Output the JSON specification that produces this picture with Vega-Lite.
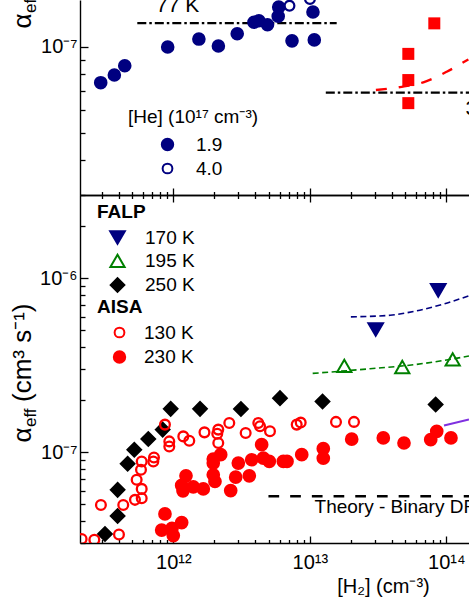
{
  "$schema": "https://vega.github.io/schema/vega-lite/v6.json",
  "autosize": {"type": "none"},
  "padding": {"left": 80, "top": 0, "right": 389, "bottom": 607},
  "spacing": 0,
  "bounds": "flush",
  "datasets": {
    "top_pts": [
      {"h2": 2.94e11, "k": 7.48e-8, "he": "1.9"},
      {"h2": 3.70e11, "k": 7.96e-8, "he": "1.9"},
      {"h2": 4.41e11, "k": 8.58e-8, "he": "1.9"},
      {"h2": 9.10e11, "k": 9.98e-8, "he": "1.9"},
      {"h2": 1.54e12, "k": 1.064e-7, "he": "1.9"},
      {"h2": 2.14e12, "k": 1.006e-7, "he": "1.9"},
      {"h2": 2.94e12, "k": 1.111e-7, "he": "1.9"},
      {"h2": 3.90e12, "k": 1.219e-7, "he": "1.9"},
      {"h2": 4.24e12, "k": 1.234e-7, "he": "1.9"},
      {"h2": 4.90e12, "k": 1.194e-7, "he": "1.9"},
      {"h2": 5.87e12, "k": 1.28e-7, "he": "1.9"},
      {"h2": 5.92e12, "k": 1.378e-7, "he": "1.9"},
      {"h2": 7.41e12, "k": 1.049e-7, "he": "1.9"},
      {"h2": 1.055e13, "k": 1.324e-7, "he": "1.9"},
      {"h2": 1.079e13, "k": 1.057e-7, "he": "1.9"},
      {"h2": 7.10e12, "k": 1.393e-7, "he": "4.0"},
      {"h2": 1.003e13, "k": 1.47e-7, "he": "4.0"}
    ],
    "top_sq": [
      {"h2": 8.17e13, "k": 1.208e-7},
      {"h2": 5.27e13, "k": 9.44e-8},
      {"h2": 5.27e13, "k": 7.64e-8},
      {"h2": 5.27e13, "k": 6.34e-8}
    ],
    "top_lines": [
      {"h2": 5.45e11, "k": 1.211e-7, "id": "a"},
      {"h2": 1.574e13, "k": 1.211e-7, "id": "a"},
      {"h2": 1.31e13, "k": 6.9e-8, "id": "b"},
      {"h2": 1.7e14, "k": 6.9e-8, "id": "b"},
      {"h2": 3.05e13, "k": 7.05e-8, "id": "red"},
      {"h2": 4.58e13, "k": 7.22e-8, "id": "red"},
      {"h2": 6.79e13, "k": 7.5e-8, "id": "red"},
      {"h2": 1.007e14, "k": 8.17e-8, "id": "red"},
      {"h2": 1.45e14, "k": 9.03e-8, "id": "red"}
    ],
    "top_text": [
      {"h2": 7.47e11, "k": 1.324e-7, "txt": "77 K"},
      {"h2": 1.383e14, "k": 5.76e-8, "txt": "300 K"}
    ],
    "bot_lines": [
      {"h2": 4.98e12, "k": 5.57e-8, "id": "theory"},
      {"h2": 1.7e14, "k": 5.57e-8, "id": "theory"},
      {"h2": 2.0e13, "k": 5.98e-7, "id": "navy"},
      {"h2": 3.87e13, "k": 6.11e-7, "id": "navy"},
      {"h2": 6.07e13, "k": 6.48e-7, "id": "navy"},
      {"h2": 9.51e13, "k": 7.08e-7, "id": "navy"},
      {"h2": 1.466e14, "k": 7.9e-7, "id": "navy"},
      {"h2": 1.05e13, "k": 2.83e-7, "id": "green"},
      {"h2": 2.76e13, "k": 3.01e-7, "id": "green"},
      {"h2": 6.07e13, "k": 3.19e-7, "id": "green"},
      {"h2": 1.466e14, "k": 3.56e-7, "id": "green"},
      {"h2": 9.62e13, "k": 1.42e-7, "id": "purple"},
      {"h2": 1.466e14, "k": 1.536e-7, "id": "purple"}
    ],
    "falp": [
      {"h2": 8.73e13, "k": 8.49e-7, "T": "170 K"},
      {"h2": 3.04e13, "k": 5.06e-7, "T": "170 K"},
      {"h2": 1.79e13, "k": 3.13e-7, "T": "195 K"},
      {"h2": 4.76e13, "k": 3.08e-7, "T": "195 K"},
      {"h2": 1.114e14, "k": 3.41e-7, "T": "195 K"},
      {"h2": 3.16e11, "k": 3.38e-8, "T": "250 K"},
      {"h2": 3.91e11, "k": 4.29e-8, "T": "250 K"},
      {"h2": 3.91e11, "k": 6.06e-8, "T": "250 K"},
      {"h2": 4.63e11, "k": 8.56e-8, "T": "250 K"},
      {"h2": 5.18e11, "k": 1.031e-7, "T": "250 K"},
      {"h2": 6.56e11, "k": 1.189e-7, "T": "250 K"},
      {"h2": 8.36e11, "k": 1.345e-7, "T": "250 K"},
      {"h2": 9.57e11, "k": 1.77e-7, "T": "250 K"},
      {"h2": 1.57e12, "k": 1.77e-7, "T": "250 K"},
      {"h2": 3.13e12, "k": 1.766e-7, "T": "250 K"},
      {"h2": 6.05e12, "k": 2.04e-7, "T": "250 K"},
      {"h2": 1.24e13, "k": 1.95e-7, "T": "250 K"},
      {"h2": 8.36e13, "k": 1.875e-7, "T": "250 K"}
    ],
    "aisa": [
      {"h2": 2.13e11, "k": 3.16e-8, "A": "130 K"},
      {"h2": 2.64e11, "k": 3.13e-8, "A": "130 K"},
      {"h2": 2.95e11, "k": 4.96e-8, "A": "130 K"},
      {"h2": 4.0e11, "k": 3.36e-8, "A": "130 K"},
      {"h2": 4.3e11, "k": 4.96e-8, "A": "130 K"},
      {"h2": 5.24e11, "k": 5.31e-8, "A": "130 K"},
      {"h2": 5.87e11, "k": 5.43e-8, "A": "130 K"},
      {"h2": 5.87e11, "k": 6.14e-8, "A": "130 K"},
      {"h2": 5.39e11, "k": 6.92e-8, "A": "130 K"},
      {"h2": 5.8e11, "k": 7.9e-8, "A": "130 K"},
      {"h2": 5.87e11, "k": 8.83e-8, "A": "130 K"},
      {"h2": 7.14e11, "k": 8.83e-8, "A": "130 K"},
      {"h2": 7.22e11, "k": 9.31e-8, "A": "130 K"},
      {"h2": 8.69e11, "k": 1.437e-7, "A": "130 K"},
      {"h2": 9.35e11, "k": 1.151e-7, "A": "130 K"},
      {"h2": 9.35e11, "k": 1.077e-7, "A": "130 K"},
      {"h2": 1.184e12, "k": 1.23e-7, "A": "130 K"},
      {"h2": 1.31e12, "k": 1.162e-7, "A": "130 K"},
      {"h2": 1.692e12, "k": 1.297e-7, "A": "130 K"},
      {"h2": 2.136e12, "k": 1.345e-7, "A": "130 K"},
      {"h2": 2.1e12, "k": 1.275e-7, "A": "130 K"},
      {"h2": 2.136e12, "k": 1.127e-7, "A": "130 K"},
      {"h2": 2.572e12, "k": 1.47e-7, "A": "130 K"},
      {"h2": 3.39e12, "k": 1.287e-7, "A": "130 K"},
      {"h2": 4.195e12, "k": 1.47e-7, "A": "130 K"},
      {"h2": 4.32e12, "k": 1.405e-7, "A": "130 K"},
      {"h2": 5.11e12, "k": 1.315e-7, "A": "130 K"},
      {"h2": 8.02e12, "k": 1.437e-7, "A": "130 K"},
      {"h2": 8.58e12, "k": 1.476e-7, "A": "130 K"},
      {"h2": 1.556e13, "k": 1.49e-7, "A": "130 K"},
      {"h2": 2.108e13, "k": 1.49e-7, "A": "130 K"},
      {"h2": 8.69e11, "k": 4.41e-8, "A": "230 K"},
      {"h2": 8.22e11, "k": 3.56e-8, "A": "230 K"},
      {"h2": 9.78e11, "k": 3.64e-8, "A": "230 K"},
      {"h2": 1.0e12, "k": 3.31e-8, "A": "230 K"},
      {"h2": 1.152e12, "k": 3.93e-8, "A": "230 K"},
      {"h2": 1.239e12, "k": 7.3e-8, "A": "230 K"},
      {"h2": 1.152e12, "k": 6.43e-8, "A": "230 K"},
      {"h2": 1.178e12, "k": 5.98e-8, "A": "230 K"},
      {"h2": 1.401e12, "k": 6.3e-8, "A": "230 K"},
      {"h2": 1.659e12, "k": 6.14e-8, "A": "230 K"},
      {"h2": 1.963e12, "k": 9.11e-8, "A": "230 K"},
      {"h2": 2.225e12, "k": 9.65e-8, "A": "230 K"},
      {"h2": 1.963e12, "k": 8.64e-8, "A": "230 K"},
      {"h2": 1.963e12, "k": 7.4e-8, "A": "230 K"},
      {"h2": 2.02e12, "k": 6.77e-8, "A": "230 K"},
      {"h2": 2.634e12, "k": 6.0e-8, "A": "230 K"},
      {"h2": 2.865e12, "k": 7.17e-8, "A": "230 K"},
      {"h2": 2.995e12, "k": 8.64e-8, "A": "230 K"},
      {"h2": 3.605e12, "k": 7.3e-8, "A": "230 K"},
      {"h2": 3.753e12, "k": 9.03e-8, "A": "230 K"},
      {"h2": 4.44e12, "k": 1.102e-7, "A": "230 K"},
      {"h2": 4.565e12, "k": 9.23e-8, "A": "230 K"},
      {"h2": 5.05e12, "k": 8.83e-8, "A": "230 K"},
      {"h2": 6.4e12, "k": 8.83e-8, "A": "230 K"},
      {"h2": 6.81e12, "k": 8.83e-8, "A": "230 K"},
      {"h2": 8.73e12, "k": 9.65e-8, "A": "230 K"},
      {"h2": 1.256e13, "k": 1.045e-7, "A": "230 K"},
      {"h2": 1.256e13, "k": 9.21e-8, "A": "230 K"},
      {"h2": 2.028e13, "k": 1.186e-7, "A": "230 K"},
      {"h2": 3.456e13, "k": 1.205e-7, "A": "230 K"},
      {"h2": 4.9e13, "k": 1.127e-7, "A": "230 K"},
      {"h2": 7.69e13, "k": 1.178e-7, "A": "230 K"},
      {"h2": 8.51e13, "k": 1.315e-7, "A": "230 K"},
      {"h2": 1.082e14, "k": 1.205e-7, "A": "230 K"}
    ],
    "bot_text": [
      {"h2": 1.084e13, "k": 4.45e-8, "txt": "Theory - Binary DR"}
    ]
  },
  "vconcat": [
    {
      "width": 400,
      "height": 195,
      "layer": [
        {
          "data": {"name": "top_lines"},
          "transform": [{"filter": "datum.id != 'red'"}],
          "mark": {"type": "line", "color": "black", "strokeWidth": 2.3, "strokeDash": [9, 3, 2.5, 3]},
          "encoding": {
            "x": {"field": "h2", "type": "quantitative", "scale": {"type": "log", "domain": [2.073e11, 1.766e14], "nice": false},
              "axis": {"orient": "bottom", "values": [3e11,4e11,5e11,6e11,7e11,8e11,9e11,1e12,2e12,3e12,4e12,5e12,6e12,7e12,8e12,9e12,1e13,2e13,3e13,4e13,5e13,6e13,7e13,8e13,9e13,1e14], "labels": false, "title": null,
                "tickSize": {"condition": {"test": "datum.value == 1e12 || datum.value == 1e13 || datum.value == 1e14", "value": -7}, "value": -3.5}}},
            "y": {"field": "k", "type": "quantitative", "scale": {"type": "log", "domain": [3.018e-8, 1.459e-7], "nice": false},
              "axis": {"orient": "left", "values": [4e-8,5e-8,6e-8,7e-8,8e-8,9e-8,1e-7], "labelExpr": "datum.value == 1e-7 ? '10⁻⁷' : ''", "labelPadding": 11,
                "tickSize": {"condition": {"test": "datum.value == 1e-7", "value": -8}, "value": -5},
                "title": "α", "titleX": -50, "titleY": 28, "titleAngle": 270, "titleAlign": "left", "titleBaseline": "alphabetic", "titleFontSize": 26}},
            "detail": {"field": "id"}
          }
        },
        {
          "data": {"name": "top_lines"},
          "transform": [{"filter": "datum.id == 'red'"}],
          "mark": {"type": "line", "color": "red", "strokeWidth": 2.3, "strokeDash": [11, 12], "interpolate": "monotone"},
          "encoding": {
            "x": {"field": "h2", "type": "quantitative", "scale": {"type": "log", "domain": [2.073e11, 1.766e14], "nice": false}, "axis": null},
            "y": {"field": "k", "type": "quantitative", "scale": {"type": "log", "domain": [3.018e-8, 1.459e-7], "nice": false},
              "axis": {"orient": "left", "domain": false, "ticks": false, "labels": false, "title": "eff", "titleX": -45, "titleY": 12.5, "titleAngle": 270, "titleAlign": "left", "titleBaseline": "alphabetic", "titleFontSize": 17}}
          }
        },
        {
          "data": {"name": "top_sq"},
          "mark": {"type": "square", "color": "red", "size": 144, "opacity": 1, "filled": true},
          "encoding": {
            "x": {"field": "h2", "type": "quantitative", "scale": {"type": "log", "domain": [2.073e11, 1.766e14], "nice": false}, "axis": null},
            "y": {"field": "k", "type": "quantitative", "scale": {"type": "log", "domain": [3.018e-8, 1.459e-7], "nice": false},
              "axis": {"orient": "left", "domain": false, "ticks": false, "labels": false, "title": "(cm³ s⁻¹)", "titleX": -50, "titleY": -12.5, "titleAngle": 270, "titleAlign": "left", "titleBaseline": "alphabetic", "titleFontSize": 26}}
          }
        },
        {
          "data": {"name": "top_pts"},
          "mark": {"type": "point", "shape": "circle", "strokeWidth": 2.2, "opacity": 1},
          "encoding": {
            "x": {"field": "h2", "type": "quantitative", "scale": {"type": "log", "domain": [2.073e11, 1.766e14], "nice": false}, "axis": null},
            "y": {"field": "k", "type": "quantitative", "scale": {"type": "log", "domain": [3.018e-8, 1.459e-7], "nice": false}, "axis": null},
            "fill": {"field": "he", "type": "nominal", "scale": {"domain": ["1.9", "4.0"], "range": ["#000080", "transparent"]},
              "legend": {"title": "[He] (10¹⁷ cm⁻³)", "orient": "none", "legendX": 48, "legendY": 108, "symbolOffset": 30, "labelOffset": 19, "rowPadding": 4, "titlePadding": 8}},
            "stroke": {"field": "he", "type": "nominal", "scale": {"domain": ["1.9", "4.0"], "range": ["#000080", "#000080"]},
              "legend": {"title": "[He] (10¹⁷ cm⁻³)", "orient": "none", "legendX": 48, "legendY": 108, "symbolOffset": 30, "labelOffset": 19, "rowPadding": 4, "titlePadding": 8}},
            "size": {"field": "he", "type": "nominal", "scale": {"domain": ["1.9", "4.0"], "range": [130, 95]},
              "legend": {"title": "[He] (10¹⁷ cm⁻³)", "orient": "none", "legendX": 48, "legendY": 108, "symbolOffset": 30, "labelOffset": 19, "rowPadding": 4, "titlePadding": 8}}
          }
        },
        {
          "data": {"name": "top_text"},
          "mark": {"type": "text", "align": "left", "baseline": "alphabetic", "fontSize": 21, "color": "black"},
          "encoding": {
            "x": {"field": "h2", "type": "quantitative", "scale": {"type": "log", "domain": [2.073e11, 1.766e14], "nice": false}, "axis": null},
            "y": {"field": "k", "type": "quantitative", "scale": {"type": "log", "domain": [3.018e-8, 1.459e-7], "nice": false}, "axis": null},
            "text": {"field": "txt"}
          }
        }
      ],
      "resolve": {"scale": {"fill": "independent", "stroke": "independent", "size": "independent"}, "axis": {"x": "independent", "y": "independent"}}
    },
    {
      "width": 400,
      "height": 348,
      "layer": [
        {
          "data": {"name": "bot_lines"},
          "transform": [{"filter": "datum.id == 'theory'"}],
          "mark": {"type": "line", "color": "black", "strokeWidth": 2.5, "strokeDash": [10.7, 11]},
          "encoding": {
            "x": {"field": "h2", "type": "quantitative", "scale": {"type": "log", "domain": [2.073e11, 1.766e14], "nice": false},
              "axis": {"orient": "bottom", "values": [3e11,4e11,5e11,6e11,7e11,8e11,9e11,1e12,2e12,3e12,4e12,5e12,6e12,7e12,8e12,9e12,1e13,2e13,3e13,4e13,5e13,6e13,7e13,8e13,9e13,1e14],
                "labelExpr": "datum.value == 1e12 ? '10¹²' : datum.value == 1e13 ? '10¹³' : datum.value == 1e14 ? '10¹⁴' : ''",
                "labelPadding": 32, "labelBaseline": "alphabetic",
                "tickSize": {"condition": {"test": "datum.value == 1e12 || datum.value == 1e13 || datum.value == 1e14", "value": -7}, "value": -3.5},
                "title": "[H₂] (cm⁻³)", "titleX": 303, "titleY": 49, "titleBaseline": "alphabetic", "titleAlign": "center"}},
            "y": {"field": "k", "type": "quantitative", "scale": {"type": "log", "domain": [3e-8, 3e-6], "nice": false},
              "axis": {"orient": "left", "values": [3e-8,4e-8,5e-8,6e-8,7e-8,8e-8,9e-8,1e-7,2e-7,3e-7,4e-7,5e-7,6e-7,7e-7,8e-7,9e-7,1e-6,2e-6,3e-6],
                "labelExpr": "datum.value == 1e-7 ? '10⁻⁷' : datum.value == 1e-6 ? '10⁻⁶' : ''", "labelPadding": 11,
                "tickSize": {"condition": {"test": "datum.value == 1e-7 || datum.value == 1e-6", "value": -8}, "value": -5},
                "title": "α", "titleX": -50, "titleY": 247, "titleAngle": 270, "titleAlign": "left", "titleBaseline": "alphabetic", "titleFontSize": 26}},
            "detail": {"field": "id"}
          }
        },
        {
          "data": {"name": "bot_lines"},
          "transform": [{"filter": "datum.id == 'navy'"}],
          "mark": {"type": "line", "color": "#000080", "strokeWidth": 1.6, "strokeDash": [6, 3.5], "interpolate": "monotone"},
          "encoding": {
            "x": {"field": "h2", "type": "quantitative", "scale": {"type": "log", "domain": [2.073e11, 1.766e14], "nice": false},
              "axis": {"orient": "top", "values": [3e11,4e11,5e11,6e11,7e11,8e11,9e11,1e12,2e12,3e12,4e12,5e12,6e12,7e12,8e12,9e12,1e13,2e13,3e13,4e13,5e13,6e13,7e13,8e13,9e13,1e14], "labels": false, "title": null,
                "tickSize": {"condition": {"test": "datum.value == 1e12 || datum.value == 1e13 || datum.value == 1e14", "value": -7}, "value": -3.5}}},
            "y": {"field": "k", "type": "quantitative", "scale": {"type": "log", "domain": [3e-8, 3e-6], "nice": false},
              "axis": {"orient": "left", "domain": false, "ticks": false, "labels": false, "title": "eff", "titleX": -45, "titleY": 231.5, "titleAngle": 270, "titleAlign": "left", "titleBaseline": "alphabetic", "titleFontSize": 17}}
          }
        },
        {
          "data": {"name": "bot_lines"},
          "transform": [{"filter": "datum.id == 'green'"}],
          "mark": {"type": "line", "color": "#008000", "strokeWidth": 1.6, "strokeDash": [6, 3.5], "interpolate": "monotone"},
          "encoding": {
            "x": {"field": "h2", "type": "quantitative", "scale": {"type": "log", "domain": [2.073e11, 1.766e14], "nice": false}, "axis": null},
            "y": {"field": "k", "type": "quantitative", "scale": {"type": "log", "domain": [3e-8, 3e-6], "nice": false},
              "axis": {"orient": "left", "domain": false, "ticks": false, "labels": false, "title": "(cm³ s⁻¹)", "titleX": -50, "titleY": 206.5, "titleAngle": 270, "titleAlign": "left", "titleBaseline": "alphabetic", "titleFontSize": 26}}
          }
        },
        {
          "data": {"name": "bot_lines"},
          "transform": [{"filter": "datum.id == 'purple'"}],
          "mark": {"type": "line", "color": "#7f30e0", "strokeWidth": 2},
          "encoding": {
            "x": {"field": "h2", "type": "quantitative", "scale": {"type": "log", "domain": [2.073e11, 1.766e14], "nice": false}, "axis": null},
            "y": {"field": "k", "type": "quantitative", "scale": {"type": "log", "domain": [3e-8, 3e-6], "nice": false}, "axis": null}
          }
        },
        {
          "data": {"name": "falp"},
          "mark": {"type": "point", "strokeWidth": 2, "opacity": 1, "clip": true},
          "encoding": {
            "x": {"field": "h2", "type": "quantitative", "scale": {"type": "log", "domain": [2.073e11, 1.766e14], "nice": false}, "axis": null},
            "y": {"field": "k", "type": "quantitative", "scale": {"type": "log", "domain": [3e-8, 3e-6], "nice": false}, "axis": null},
            "shape": {"field": "T", "type": "nominal", "scale": {"domain": ["170 K", "195 K", "250 K"], "range": ["triangle-down", "triangle-up", "diamond"]},
              "legend": {"title": "FALP", "orient": "none", "legendX": 17, "legendY": 8, "titleFontWeight": "bold", "symbolOffset": 11, "labelOffset": 18, "rowPadding": 2.3, "titlePadding": 6}},
            "fill": {"field": "T", "type": "nominal", "scale": {"domain": ["170 K", "195 K", "250 K"], "range": ["#000080", "transparent", "black"]},
              "legend": {"title": "FALP", "orient": "none", "legendX": 17, "legendY": 8, "titleFontWeight": "bold", "symbolOffset": 11, "labelOffset": 18, "rowPadding": 2.3, "titlePadding": 6}},
            "stroke": {"field": "T", "type": "nominal", "scale": {"domain": ["170 K", "195 K", "250 K"], "range": ["#000080", "#008000", "black"]},
              "legend": {"title": "FALP", "orient": "none", "legendX": 17, "legendY": 8, "titleFontWeight": "bold", "symbolOffset": 11, "labelOffset": 18, "rowPadding": 2.3, "titlePadding": 6}},
            "size": {"field": "T", "type": "nominal", "scale": {"domain": ["170 K", "195 K", "250 K"], "range": [216, 188, 160]},
              "legend": {"title": "FALP", "orient": "none", "legendX": 17, "legendY": 8, "titleFontWeight": "bold", "symbolOffset": 11, "labelOffset": 18, "rowPadding": 2.3, "titlePadding": 6}}
          }
        },
        {
          "data": {"name": "aisa"},
          "mark": {"type": "point", "shape": "circle", "strokeWidth": 2.3, "opacity": 1, "clip": true},
          "encoding": {
            "x": {"field": "h2", "type": "quantitative", "scale": {"type": "log", "domain": [2.073e11, 1.766e14], "nice": false}, "axis": null},
            "y": {"field": "k", "type": "quantitative", "scale": {"type": "log", "domain": [3e-8, 3e-6], "nice": false}, "axis": null},
            "fill": {"field": "A", "type": "nominal", "scale": {"domain": ["130 K", "230 K"], "range": ["transparent", "red"]},
              "legend": {"title": "AISA", "orient": "none", "legendX": 17, "legendY": 103, "titleFontWeight": "bold", "symbolOffset": 13, "labelOffset": 15, "rowPadding": 3.5, "titlePadding": 6}},
            "stroke": {"field": "A", "type": "nominal", "scale": {"domain": ["130 K", "230 K"], "range": ["red", "red"]},
              "legend": {"title": "AISA", "orient": "none", "legendX": 17, "legendY": 103, "titleFontWeight": "bold", "symbolOffset": 13, "labelOffset": 15, "rowPadding": 3.5, "titlePadding": 6}},
            "size": {"field": "A", "type": "nominal", "scale": {"domain": ["130 K", "230 K"], "range": [95, 130]},
              "legend": {"title": "AISA", "orient": "none", "legendX": 17, "legendY": 103, "titleFontWeight": "bold", "symbolOffset": 13, "labelOffset": 15, "rowPadding": 3.5, "titlePadding": 6}}
          }
        },
        {
          "data": {"name": "bot_text"},
          "mark": {"type": "text", "align": "left", "baseline": "alphabetic", "fontSize": 19, "color": "black"},
          "encoding": {
            "x": {"field": "h2", "type": "quantitative", "scale": {"type": "log", "domain": [2.073e11, 1.766e14], "nice": false}, "axis": null},
            "y": {"field": "k", "type": "quantitative", "scale": {"type": "log", "domain": [3e-8, 3e-6], "nice": false}, "axis": null},
            "text": {"field": "txt"}
          }
        }
      ],
      "resolve": {"scale": {"fill": "independent", "stroke": "independent", "size": "independent", "shape": "independent"}, "axis": {"x": "independent", "y": "independent"}}
    }
  ],
  "resolve": {"scale": {"fill": "independent", "stroke": "independent", "size": "independent", "shape": "independent"}},
  "config": {
    "font": "Liberation Sans",
    "view": {"stroke": null},
    "axis": {"domainColor": "black", "domainWidth": 1.4, "tickColor": "black", "tickWidth": 1.3, "labelColor": "black", "titleColor": "black", "grid": false,
      "labelFont": "Liberation Sans", "titleFont": "Liberation Sans", "labelFontSize": 20, "titleFontSize": 20, "titleFontWeight": "normal",
      "labelOverlap": false, "labelFlush": false, "labelBound": false},
    "legend": {"titleFont": "Liberation Sans", "labelFont": "Liberation Sans", "titleFontSize": 19, "labelFontSize": 19, "titleColor": "black", "labelColor": "black",
      "titleFontWeight": "normal", "padding": 0, "symbolStrokeWidth": 2, "titleLimit": 400, "labelLimit": 200},
    "text": {"font": "Liberation Sans"}
  }
}
